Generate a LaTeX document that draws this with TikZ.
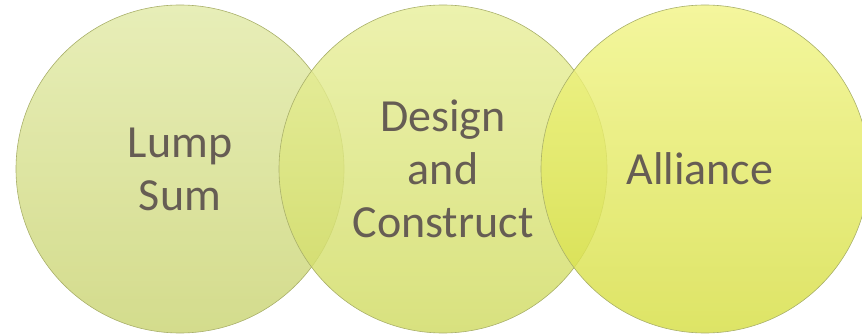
\documentclass[tikz,border=0pt]{standalone}
\usepackage{fontspec}
\setmainfont{Carlito}
\usepackage{tikz}
\usetikzlibrary{shapes.geometric}
\usetikzlibrary{positioning}
\definecolor{lumptop}{HTML}{E2EAA8}
\definecolor{lumpbot}{HTML}{CAD473}
\definecolor{dandctop}{HTML}{E8EF9C}
\definecolor{dandcbot}{HTML}{D0DB62}
\definecolor{alltop}{HTML}{F1F487}
\definecolor{allbot}{HTML}{D6DE44}
\definecolor{rimgray}{HTML}{A9B06A}
\definecolor{textgray}{HTML}{665D54}
\tikzstyle{bubble} = [circle, minimum size=328pt, inner sep=0pt, draw=rimgray, line width=0.6pt, fill opacity=0.82, text opacity=1, text=textgray, align=center, font=\fontsize{46}{53}\selectfont]

\begin{document}
\begin{tikzpicture}[x=1pt, y=1pt]

    \useasboundingbox (0,0) rectangle (862,335);

    \node[bubble,
        top color=lumptop,
        bottom color=lumpbot] 
    (lump) at (180,166) {
        Lump\\
        Sum
    };

    \node[bubble,
        top color=dandctop,
        bottom color=dandcbot] 
    (dandc) at (443,166) {
        Design\\
        and\\
        Construct
    };

    \node[bubble,
        top color=alltop,
        bottom color=allbot] 
    (alliance) at (705,166) {
        Alliance
    };

\end{tikzpicture}
\end{document}
